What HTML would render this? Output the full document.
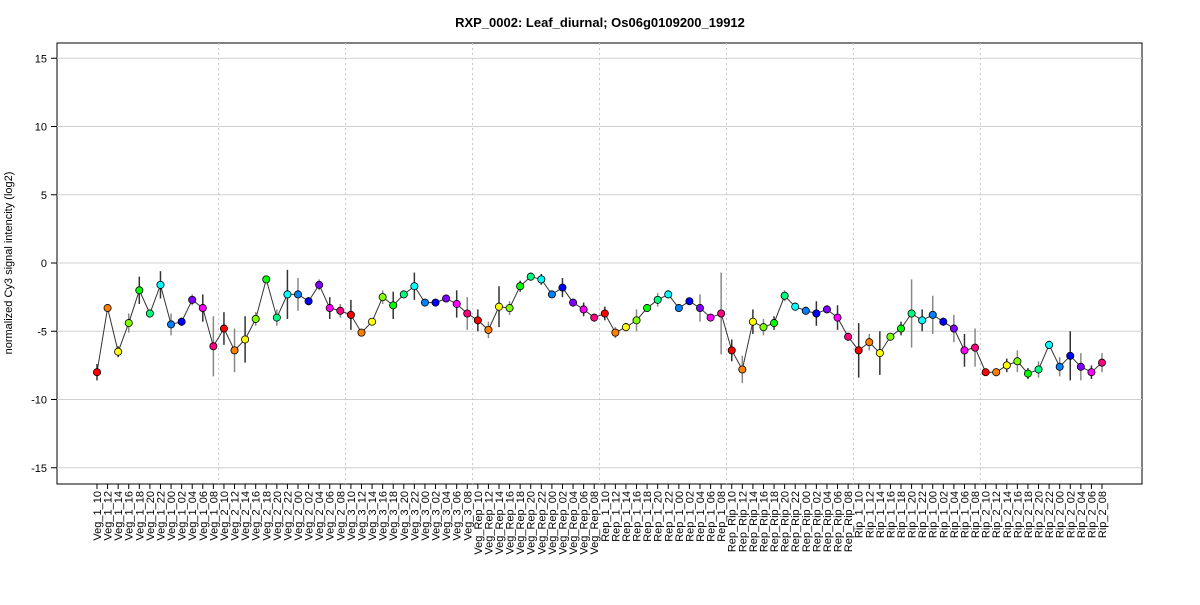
<!DOCTYPE html>
<html><head><meta charset="utf-8"><style>
body{margin:0;background:#fff;}
svg text{font-family:"Liberation Sans",Arial,sans-serif;}
</style></head><body>
<svg id="chart" width="1200" height="600" xmlns="http://www.w3.org/2000/svg">
<text x="600" y="27" text-anchor="middle" font-size="13" font-weight="bold">RXP_0002: Leaf_diurnal; Os06g0109200_19912</text>
<text transform="translate(12,263) rotate(-90)" text-anchor="middle" font-size="11">normalized Cy3 signal intencity (log2)</text>
<rect x="57" y="43" width="1085" height="441" fill="none" stroke="#000" stroke-width="1"/>
<g id="grid"></g><g id="yaxis"></g><g id="marks"></g><g id="xlabels"></g>
</svg>
<script>
const groups=["Veg_1","Veg_2","Veg_3","Veg_Rep","Rep_1","Rep_Rip","Rip_1","Rip_2"];
const hours=["10","12","14","16","18","20","22","00","02","04","06","08"];
const yTicks=[15,10,5,0,-5,-10,-15];
const values=[-8.0,-3.3,-6.5,-4.4,-2.0,-3.7,-1.6,-4.5,-4.3,-2.7,-3.3,-6.1,
-4.8,-6.4,-5.6,-4.1,-1.2,-4.0,-2.3,-2.3,-2.8,-1.6,-3.3,-3.5,
-3.8,-5.1,-4.3,-2.5,-3.1,-2.3,-1.7,-2.9,-2.9,-2.6,-3.0,-3.7,
-4.2,-4.9,-3.2,-3.3,-1.7,-1.0,-1.2,-2.3,-1.8,-2.9,-3.4,-4.0,
-3.7,-5.1,-4.7,-4.2,-3.3,-2.7,-2.3,-3.3,-2.8,-3.3,-4.0,-3.7,
-6.4,-7.8,-4.3,-4.7,-4.4,-2.4,-3.2,-3.5,-3.7,-3.4,-4.0,-5.4,
-6.4,-5.8,-6.6,-5.4,-4.8,-3.7,-4.2,-3.8,-4.3,-4.8,-6.4,-6.2,
-8.0,-8.0,-7.5,-7.2,-8.1,-7.8,-6.0,-7.6,-6.8,-7.6,-8.0,-7.3];
const errors=[0.6,0.2,0.4,0.7,1.0,0.3,1.0,0.8,0.3,0.4,1.0,2.2,
1.2,1.6,1.7,0.5,0.2,0.6,1.8,1.2,0.3,0.4,0.8,0.5,
1.1,0.2,0.2,0.5,1.0,0.2,1.0,0.2,0.2,0.2,1.0,1.2,
0.8,0.6,1.5,0.5,0.4,0.3,0.4,0.2,0.7,0.3,0.5,0.3,
0.5,0.4,0.3,0.8,0.2,0.5,0.3,0.2,0.2,1.0,0.2,3.0,
0.8,1.0,0.9,0.6,0.5,0.4,0.3,0.3,0.9,0.3,0.9,0.3,
2.0,0.6,1.6,0.3,0.5,2.5,0.8,1.4,0.3,1.0,1.2,1.4,
0.2,0.3,0.5,0.8,0.4,0.6,0.3,0.7,1.8,1.0,0.5,0.7];
const palette=["#FF0000","#FF8000","#FFFF00","#80FF00","#00FF00","#00FF80","#00FFFF","#0080FF","#0000FF","#8000FF","#FF00FF","#FF0080"];
const categories=[];groups.forEach(g=>hours.forEach(h=>categories.push(g+"_"+h)));
const NS="http://www.w3.org/2000/svg";
const x0=97,x1=1102,n=categories.length;
const xs=i=>x0+i*(x1-x0)/(n-1);
const ys=v=>263-v*13.65;
function mk(tag,attrs,parent){const e=document.createElementNS(NS,tag);for(const k in attrs)e.setAttribute(k,attrs[k]);document.getElementById(parent).appendChild(e);return e;}
yTicks.forEach(t=>{
 const g=mk("line",{x1:57,x2:1142,y1:ys(t),y2:ys(t),stroke:"#d0d0d0","stroke-width":1},"grid");
 
 
 const tk=mk("line",{x1:51,x2:57,y1:ys(t),y2:ys(t),stroke:"#000"},"yaxis");
 
 
 const tx=mk("text",{x:47,y:ys(t)+4,"text-anchor":"end","font-size":11},"yaxis");
 
 
 tx.textContent=t;
});
for(let gi=1;gi<groups.length;gi++){
 const xv=(xs(gi*12-1)+xs(gi*12))/2;
 const d=mk("line",{x1:xv,x2:xv,y1:43,y2:484,stroke:"#c8c8c8","stroke-dasharray":"2,3"},"grid");
 
 
}
const pts=values.map((v,i)=>xs(i)+","+ys(v)).join(" ");
const pl=mk("polyline",{points:pts,fill:"none",stroke:"#333","stroke-width":1},"marks");


values.forEach((v,i)=>{
 const e=mk("line",{x1:xs(i),x2:xs(i),y1:ys(v+errors[i]),y2:ys(v-errors[i]),stroke:i%2?"#888":"#333","stroke-width":1.5},"marks");
 
 
});
values.forEach((v,i)=>{
 const c=mk("circle",{cx:xs(i),cy:ys(v),r:3.6,fill:palette[i%12],stroke:"#000","stroke-width":0.8},"marks");
 
 
 const tk=mk("line",{x1:xs(i),x2:xs(i),y1:484,y2:489,stroke:"#000"},"xlabels");
 
 
 const t=mk("text",{transform:"translate("+(xs(i)+4)+",491) rotate(-90)","text-anchor":"end","font-size":11},"xlabels");
 
 
 t.textContent=categories[i];
});
</script>
</body></html>
